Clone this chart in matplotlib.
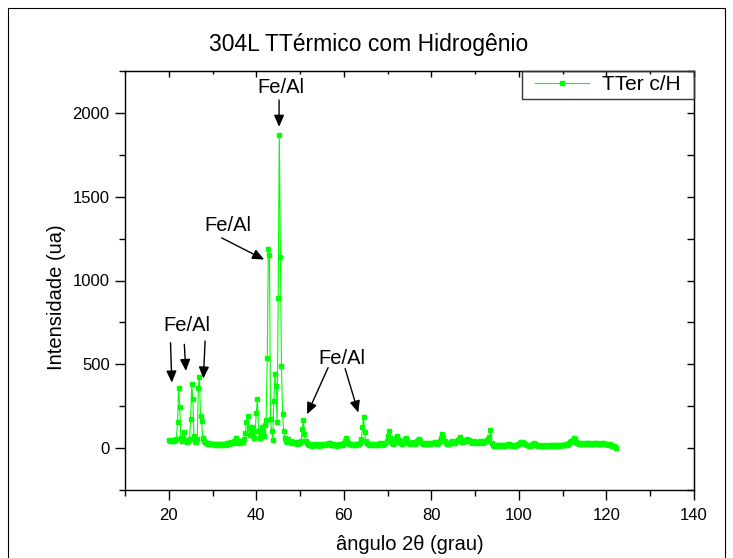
import numpy as np
import matplotlib
matplotlib.use("Agg")
import matplotlib.pyplot as plt
from matplotlib.patches import Rectangle

plt.rcParams['font.family'] = ['Liberation Sans', 'DejaVu Sans']

# ---------------- data ----------------
two_theta = np.round(np.arange(20.0, 122.30, 0.25), 2)
intensity = [
    48, 44, 46, 42, 45, 40, 47, 52, 155, 361, 244, 60, 45, 60, 95, 50, 42, 38, 40, 52,          # 20-24.75
    173, 381, 292, 70, 40, 38, 55, 361, 424, 192, 164, 60, 40, 35, 30, 28, 25, 28, 22, 25,        # 25-29.75
    22, 26, 20, 24, 18, 22, 25, 20, 18, 22, 26, 24, 20, 28, 30, 25, 32, 35, 30, 28,               # 30-34.75
    45, 63, 40, 30, 35, 28, 40, 45, 35, 55, 90, 155, 192, 120, 80, 100, 125, 70, 60, 101,         # 35-39.75
    212, 292, 101, 60, 80, 125, 101, 70, 137, 170, 536, 1189, 1155, 173, 101, 48, 282, 440, 371, 155,  # 40-44.75
    893, 1869, 1143, 488, 202, 101, 60, 45, 38, 55, 40, 35, 42, 30, 38, 28, 30, 25, 35, 28,      # 45-49.75
    30, 45, 113, 168, 83, 40, 28, 22, 20, 18, 22, 15, 18, 20, 16, 22, 18, 15, 20, 22,             # 50-54.75
    18, 24, 20, 16, 22, 25, 30, 28, 20, 18, 22, 20, 16, 18, 15, 20, 22, 18, 24, 20,               # 55-59.75
    30, 45, 63, 40, 28, 22, 25, 20, 22, 18, 25, 20, 22, 26, 24, 30, 55, 125, 183, 95,             # 60-64.75
    45, 28, 22, 25, 20, 18, 22, 25, 20, 18, 22, 20, 24, 30, 22, 20, 25, 22, 28, 40,               # 65-69.75
    70, 103, 60, 35, 28, 25, 30, 45, 60, 75, 50, 30, 28, 25, 35, 45, 55, 60, 40, 30,              # 70-74.75
    25, 30, 28, 35, 30, 25, 30, 40, 48, 54, 40, 30, 25, 28, 22, 25, 30, 25, 22, 28,               # 75-79.75
    25, 30, 28, 35, 30, 25, 28, 35, 45, 60, 83, 60, 40, 30, 25, 28, 22, 30, 35, 40,               # 80-84.75
    35, 30, 28, 40, 50, 55, 65, 45, 38, 35, 45, 50, 45, 54, 48, 40, 35, 30, 35, 42,               # 85-89.75
    38, 35, 30, 32, 40, 45, 38, 32, 35, 40, 45, 50, 55, 66, 109, 30, 18, 15, 18, 16,              # 90-94.75
    18, 15, 14, 16, 20, 18, 15, 14, 16, 18, 22, 25, 20, 18, 15, 16, 14, 18, 20, 22,               # 95-99.75
    25, 30, 35, 38, 32, 28, 22, 18, 16, 14, 15, 18, 20, 25, 28, 22, 18, 15, 14, 16,               # 100-104.75
    14, 15, 12, 14, 16, 14, 15, 13, 16, 18, 15, 14, 16, 15, 14, 17, 16, 14, 16, 18,               # 105-109.75
    18, 20, 18, 22, 20, 25, 28, 35, 42, 50, 58, 52, 38, 30, 28, 25, 28, 26, 24, 28,               # 110-114.75
    25, 28, 26, 30, 28, 25, 24, 22, 26, 30, 32, 28, 26, 24, 22, 25, 28, 30, 26, 24,               # 115-119.75
    22, 20, 24, 22, 18, 15, 12, 10, 8, 2,                                                          # 120-122.25
]
series_label = "TTer c/H"
title = "304L TTérmico com Hidrogênio"
xlabel = "ângulo 2θ (grau)"
ylabel = "Intensidade (ua)"
x_major = [20, 40, 60, 80, 100, 120, 140]
y_major = [0, 500, 1000, 1500, 2000]

# annotations: (text, text_xy, [(arrow_start, arrow_end), ...])
annotations = [
    ("Fe/Al", (45.6, 2149), [((45.2, 2077), (45.2, 1917))]),
    ("Fe/Al", (33.4, 1330), [((32.1, 1254), (41.8, 1125))]),
    ("Fe/Al", (24.1, 729), [((20.4, 629), (20.7, 391)),
                            ((23.55, 619), (23.9, 460)),
                            ((28.3, 639), (27.9, 415))]),
    ("Fe/Al", (59.6, 536), [((56.4, 480), (51.6, 202)),
                            ((60.3, 474), (63.3, 212))]),
]

# ---------------- figure ----------------
W, H = 733, 558
AX_L, AX_R, AX_T, AX_B = 125, 694, 71, 490
fig = plt.figure(figsize=(W / 100, H / 100), dpi=100)
ax = fig.add_axes([AX_L / W, 1 - AX_B / H, (AX_R - AX_L) / W, (AX_B - AX_T) / H])

green = '#00ff00'
ax.plot(two_theta, intensity, color=green, lw=0.8, marker='s', ms=3.0,
        mec=green, mfc=green, label=series_label)

ax.set_xlim(10, 140)
ax.set_ylim(-250, 2250)
ax.set_xticks(x_major)
ax.set_xticks(np.arange(10, 141, 10), minor=True)
ax.set_yticks(y_major)
ax.set_yticks(np.arange(-250, 2251, 250), minor=True)
ax.tick_params(which='both', direction='out', labelsize=12, width=1.0,
               top=False, right=False)
ax.tick_params(axis='x', which='major', pad=6)
ax.tick_params(axis='y', which='major', pad=4)
ax.tick_params(which='major', length=7)
ax.tick_params(which='minor', length=4)
for s in ax.spines.values():
    s.set_linewidth(1.0)

sx = ax.secondary_xaxis('top')
sx.set_xticks(x_major)
sx.set_xticks(np.arange(10, 141, 10), minor=True)
sx.tick_params(which='both', direction='in', labeltop=False, width=1.0)
sx.tick_params(which='major', length=4)
sx.tick_params(which='minor', length=2.5)
sy = ax.secondary_yaxis('right')
sy.set_yticks(y_major)
sy.set_yticks(np.arange(-250, 2251, 250), minor=True)
sy.tick_params(which='both', direction='in', labelright=False, width=1.0)
sy.tick_params(which='major', length=5)
sy.tick_params(which='minor', length=5)

for txt, txy, arrows in annotations:
    ax.text(txy[0], txy[1], txt, ha='center', va='center', fontsize=14.5)
    for start, end in arrows:
        ax.annotate('', xy=end, xytext=start,
                    arrowprops=dict(arrowstyle='-|>,head_length=0.5,head_width=0.22',
                                    color='black', lw=1.0, mutation_scale=14,
                                    shrinkA=0, shrinkB=0))

# legend: frame drawn manually to match the reference box
axw, axh = AX_R - AX_L, AX_B - AX_T
leg = ax.legend(loc='center left',
                bbox_to_anchor=((535 - AX_L) / axw, 1 - (85 - AX_T) / axh),
                borderaxespad=0, borderpad=0, fontsize=15, frameon=False,
                handlelength=2.6, handletextpad=0.6, numpoints=1)
ax.add_patch(Rectangle(((522 - AX_L) / axw, 1 - (99 - AX_T) / axh),
                       (AX_R - 522) / axw, (99 - AX_T) / axh,
                       transform=ax.transAxes, fill=False, edgecolor='#333333',
                       lw=1.0, zorder=5, clip_on=False))

fig.text(369 / W, 1 - 45 / H, title, ha='center', va='center', fontsize=16.5)
fig.text(410 / W, 1 - 545 / H, xlabel, ha='center', va='center', fontsize=14.5)
fig.text(57 / W, 1 - 297 / H, ylabel, ha='center', va='center', fontsize=14.5,
         rotation=90)

fig.patches.append(Rectangle((8 / W, -0.05), (725 - 8) / W, 1.05 - 8 / H,
                             transform=fig.transFigure, fill=False,
                             edgecolor='black', lw=0.8))

fig.savefig('out.png', dpi=100)
